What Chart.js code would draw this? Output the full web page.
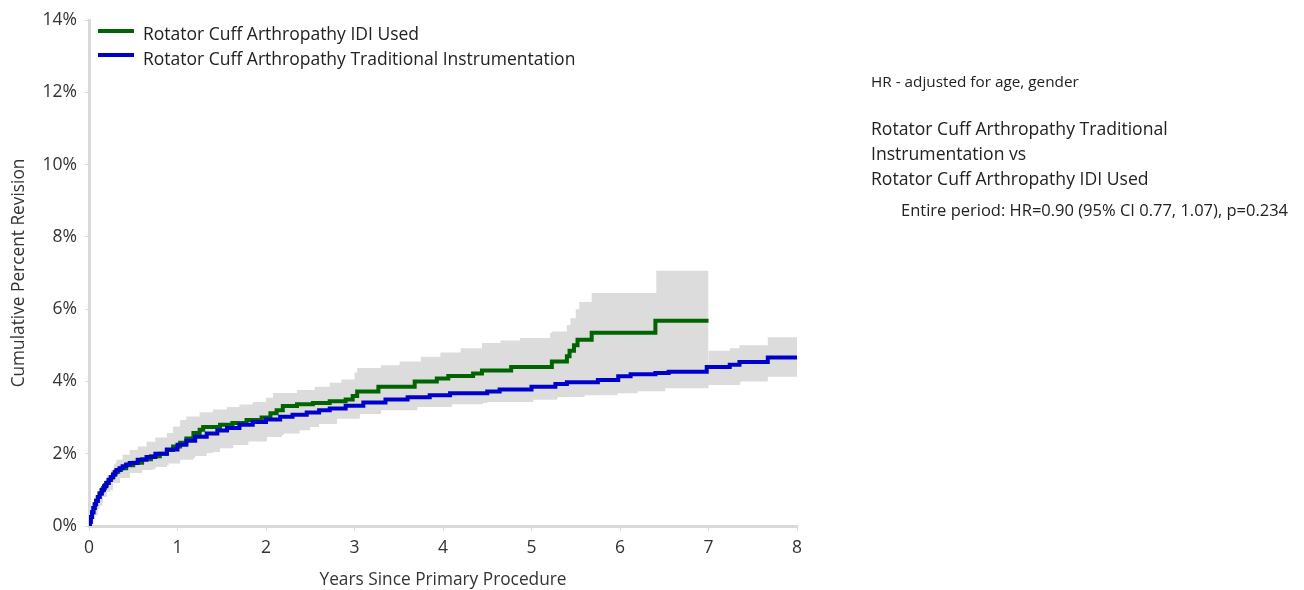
<!DOCTYPE html>
<html>
<head>
<meta charset="utf-8">
<script src="https://cdn.jsdelivr.net/npm/chart.js@4.4.1/dist/chart.umd.min.js"></script>
<style>
  html, body { margin: 0; padding: 0; background: #fff; }
  #wrap { width: 1304px; height: 590px; position: relative; }
</style>
</head>
<body>
<div id="wrap"><canvas id="chart" width="1304" height="590"></canvas></div>
<script>
// series labels
const seriesNames = ["Rotator Cuff Arthropathy IDI Used", "Rotator Cuff Arthropathy Traditional Instrumentation"];

// x tick labels (years) and y ticks (%)
const yearTicks = [0, 1, 2, 3, 4, 5, 6, 7, 8];
const pctTicks = [0, 2, 4, 6, 8, 10, 12, 14];

// IDI Used - cumulative percent revision [years, %]
const idiYears = [0, 0.01, 0.02, 0.035, 0.05, 0.065, 0.08, 0.1, 0.12, 0.14, 0.16, 0.18, 0.2, 0.225, 0.25, 0.275, 0.3, 0.33, 0.36, 0.42, 0.5, 0.6, 0.7, 0.8, 0.88, 0.95, 1.03, 1.1, 1.18, 1.25, 1.29, 1.48, 1.62, 1.78, 1.95, 2.05, 2.12, 2.19, 2.35, 2.53, 2.72, 2.9, 2.98, 3.03, 3.27, 3.68, 3.93, 4.06, 4.34, 4.44, 4.77, 5.23, 5.4, 5.43, 5.48, 5.52, 5.68, 6.4, 7.0];
const idiPct = [0, 0.12, 0.25, 0.38, 0.5, 0.6, 0.7, 0.8, 0.9, 0.98, 1.05, 1.13, 1.2, 1.28, 1.35, 1.43, 1.5, 1.55, 1.6, 1.68, 1.75, 1.85, 1.93, 2.0, 2.1, 2.2, 2.3, 2.42, 2.57, 2.66, 2.74, 2.8, 2.85, 2.93, 3.0, 3.12, 3.2, 3.32, 3.37, 3.4, 3.45, 3.5, 3.6, 3.72, 3.85, 4.0, 4.08, 4.15, 4.22, 4.3, 4.4, 4.55, 4.7, 4.85, 5.0, 5.15, 5.35, 5.68, 5.68];

// IDI Used - 95% CI
const idiCiUpperYears = [0, 0.02, 0.05, 0.07, 0.09, 0.115, 0.14, 0.17, 0.2, 0.225, 0.25, 0.28, 0.31, 0.38, 0.46, 0.55, 0.65, 0.75, 0.88, 0.95, 1.03, 1.1, 1.25, 1.4, 1.56, 1.7, 1.85, 2.0, 2.08, 2.35, 2.55, 2.72, 2.85, 3.0, 3.03, 3.3, 3.51, 3.75, 3.97, 4.2, 4.44, 4.65, 4.87, 5.21, 5.23, 5.4, 5.44, 5.5, 5.54, 5.68, 6.41, 7.0];
const idiCiUpper = [0, 0.2, 0.4, 0.52, 0.64, 0.8, 0.95, 1.1, 1.27, 1.41, 1.55, 1.7, 1.83, 1.97, 2.1, 2.2, 2.33, 2.45, 2.57, 2.75, 2.93, 3.03, 3.15, 3.22, 3.29, 3.36, 3.43, 3.55, 3.68, 3.76, 3.85, 3.96, 4.05, 4.25, 4.37, 4.45, 4.55, 4.68, 4.8, 4.92, 5.06, 5.13, 5.2, 5.34, 5.38, 5.56, 5.75, 6.0, 6.2, 6.45, 7.06, 7.06];
const idiCiLowerYears = [0, 0.05, 0.1, 0.15, 0.2, 0.27, 0.35, 0.46, 0.6, 0.75, 0.9, 1.0, 1.2, 1.4, 1.6, 1.8, 2.0, 2.2, 2.5, 2.8, 3.0, 3.3, 3.7, 4.1, 4.5, 5.0, 5.3, 5.5, 6.0, 6.5, 7.0];
const idiCiLower = [0, 0.3, 0.55, 0.8, 0.98, 1.19, 1.33, 1.47, 1.57, 1.68, 1.8, 1.88, 2.02, 2.18, 2.3, 2.4, 2.52, 2.65, 2.82, 3.0, 3.1, 3.22, 3.32, 3.4, 3.47, 3.55, 3.65, 3.9, 4.2, 4.4, 4.4];

// Traditional Instrumentation - cumulative percent revision
const tradYears = [0, 0.01, 0.02, 0.035, 0.05, 0.065, 0.08, 0.1, 0.12, 0.145, 0.17, 0.195, 0.22, 0.245, 0.27, 0.29, 0.31, 0.345, 0.38, 0.42, 0.46, 0.55, 0.65, 0.75, 0.88, 1.0, 1.1, 1.2, 1.33, 1.45, 1.56, 1.7, 1.85, 2.0, 2.16, 2.3, 2.46, 2.6, 2.72, 2.9, 3.1, 3.35, 3.6, 3.85, 4.08, 4.5, 4.64, 5.0, 5.27, 5.4, 5.75, 5.98, 6.12, 6.4, 6.55, 6.98, 7.24, 7.35, 7.67, 8.0];
const tradPct = [0, 0.12, 0.25, 0.38, 0.5, 0.6, 0.7, 0.8, 0.9, 1.0, 1.1, 1.19, 1.27, 1.35, 1.42, 1.49, 1.55, 1.6, 1.65, 1.7, 1.74, 1.83, 1.91, 2.0, 2.12, 2.25, 2.36, 2.47, 2.56, 2.64, 2.71, 2.8, 2.88, 2.95, 3.02, 3.08, 3.14, 3.2, 3.25, 3.33, 3.42, 3.5, 3.56, 3.62, 3.67, 3.72, 3.78, 3.85, 3.93, 3.98, 4.04, 4.14, 4.2, 4.23, 4.27, 4.4, 4.46, 4.54, 4.66, 4.66];

// Traditional Instrumentation - 95% CI
const tradCiUpperYears = [0, 0.05, 0.1, 0.2, 0.3, 0.45, 0.6, 0.8, 1.0, 1.25, 1.5, 2.0, 2.5, 3.0, 3.5, 4.0, 4.5, 5.0, 5.5, 6.0, 6.5, 7.0, 7.24, 7.35, 7.67, 8.0];
const tradCiUpper = [0, 0.55, 0.95, 1.4, 1.75, 1.95, 2.05, 2.25, 2.45, 2.7, 2.9, 3.15, 3.38, 3.62, 3.78, 3.9, 3.98, 4.1, 4.25, 4.42, 4.55, 4.85, 4.92, 5.0, 5.22, 5.22];
const tradCiLowerYears = [0, 0.05, 0.085, 0.12, 0.16, 0.2, 0.235, 0.27, 0.35, 0.46, 0.6, 0.72, 0.88, 1.03, 1.18, 1.33, 1.48, 1.63, 1.8, 2.01, 2.18, 2.38, 2.6, 2.8, 3.06, 3.3, 3.71, 4.1, 4.45, 5.02, 5.29, 5.6, 5.97, 6.2, 6.51, 7.0, 7.36, 7.67, 8.0];
const tradCiLower = [0, 0.3, 0.47, 0.64, 0.8, 0.95, 1.07, 1.19, 1.33, 1.47, 1.55, 1.63, 1.73, 1.83, 1.94, 2.05, 2.15, 2.24, 2.34, 2.46, 2.56, 2.74, 2.85, 2.97, 3.12, 3.2, 3.29, 3.37, 3.43, 3.49, 3.57, 3.62, 3.67, 3.73, 3.81, 3.9, 4.0, 4.13, 4.13];

const hrNote = "HR - adjusted for age, gender";
const compareLines = ["Rotator Cuff Arthropathy Traditional", "Instrumentation vs", "Rotator Cuff Arthropathy IDI Used"];
const periodNote = "Entire period: HR=0.90 (95% CI 0.77, 1.07), p=0.234";

const GREEN = "#006400";
const BLUE = "#0000cd";
const BAND = "#dcdcdc";
const FONT = "'Open Sans', 'Noto Sans', sans-serif";

const pts = (xs, ys) => xs.map((x, i) => ({ x: x, y: ys[i] }));

const lineDs = (label, data, color) => ({
  label: label,
  data: data,
  borderColor: color,
  backgroundColor: color,
  borderWidth: 4,
  pointRadius: 0,
  stepped: "before",
  fill: false,
  order: 0,
});

const bandDs = (label, data, fill) => ({
  label: label,
  data: data,
  borderColor: BAND,
  backgroundColor: BAND,
  borderWidth: 0,
  pointRadius: 0,
  stepped: "before",
  fill: fill,
  order: 1,
});

const notesPlugin = {
  id: "notes",
  afterDraw(chart) {
    const ctx = chart.ctx;
    ctx.save();
    // legend
    const rows = [[seriesNames[0], GREEN, 31, 35], [seriesNames[1], BLUE, 55, 60]];
    ctx.textBaseline = "middle";
    ctx.font = "17.5px " + FONT;
    ctx.fillStyle = "#222";
    rows.forEach(([txt, col, ly, ty]) => {
      ctx.strokeStyle = col;
      ctx.lineWidth = 4;
      ctx.beginPath();
      ctx.moveTo(98, ly);
      ctx.lineTo(134, ly);
      ctx.stroke();
      ctx.fillText(txt, 143, ty);
    });
    // right-hand notes
    ctx.font = "15.3px " + FONT;
    ctx.fillText(hrNote, 871, 83);
    ctx.font = "17.6px " + FONT;
    compareLines.forEach((t, i) => ctx.fillText(t, 871, 130 + i * 25));
    ctx.font = "16.5px " + FONT;
    ctx.fillText(periodNote, 901, 211);
    ctx.restore();
  },
};

new Chart(document.getElementById("chart"), {
  type: "line",
  data: {
    datasets: [
      lineDs(seriesNames[1], pts(tradYears, tradPct), BLUE),
      lineDs(seriesNames[0], pts(idiYears, idiPct), GREEN),
      bandDs("IDI upper", pts(idiCiUpperYears, idiCiUpper), "+1"),
      bandDs("IDI lower", pts(idiCiLowerYears, idiCiLower), false),
      bandDs("Trad upper", pts(tradCiUpperYears, tradCiUpper), "+1"),
      bandDs("Trad lower", pts(tradCiLowerYears, tradCiLower), false),
    ],
  },
  options: {
    responsive: false,
    animation: false,
    layout: { padding: { top: 20, right: 507, left: 0, bottom: 0 } },
    plugins: {
      legend: { display: false },
      tooltip: { enabled: false },
    },
    scales: {
      x: {
        type: "linear",
        min: 0,
        max: 8,
        afterBuildTicks: (axis) => { axis.ticks = yearTicks.map((v) => ({ value: v })); },
        afterFit: (axis) => { axis.height = 64; },
        grid: { drawOnChartArea: false, drawTicks: true, tickLength: 5, color: "#d9d9d9" },
        border: { display: true, color: "#d9d9d9", width: 3 },
        ticks: { color: "#333", font: { family: FONT, size: 17.5 }, padding: 7, maxRotation: 0 },
        title: { display: true, text: "Years Since Primary Procedure", color: "#333", font: { family: FONT, size: 17.3 }, padding: { top: 2, bottom: 0 } },
      },
      y: {
        min: 0,
        max: 14,
        afterBuildTicks: (axis) => { axis.ticks = pctTicks.map((v) => ({ value: v })); },
        afterFit: (axis) => { axis.width = 89; },
        grid: { drawOnChartArea: false, drawTicks: true, tickLength: 4, color: "#d9d9d9" },
        border: { display: true, color: "#d9d9d9", width: 3 },
        ticks: { color: "#333", font: { family: FONT, size: 17.5 }, padding: 8, callback: (v) => v + "%" },
        title: { display: true, text: "Cumulative Percent Revision", color: "#333", font: { family: FONT, size: 17.3 }, padding: { top: 9, bottom: 4 } },
      },
    },
  },
  plugins: [notesPlugin],
});
</script>
</body>
</html>
